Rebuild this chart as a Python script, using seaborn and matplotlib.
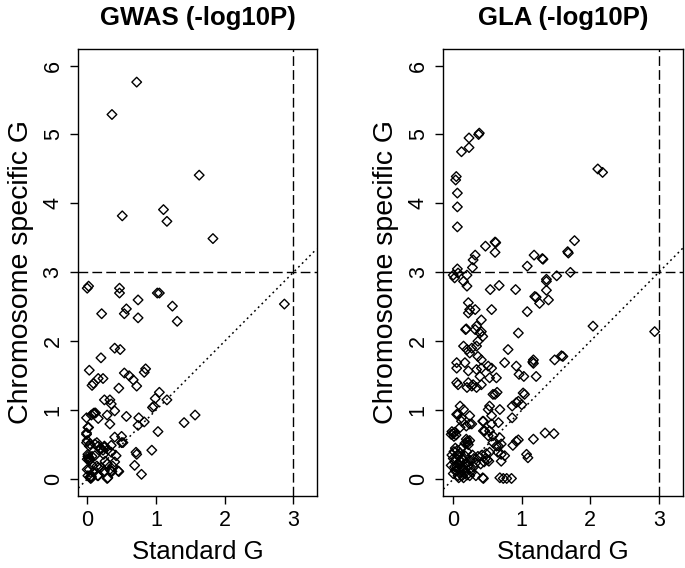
"""
Scatter of chromosome specific G vs standard G for GWAS and GLA (-log10P).
"""
import pandas as pd
import matplotlib.pyplot as plt
import seaborn as sns

# GWAS panel: (standard G, chromosome specific G)
gwas_std = [
    0.72, 0.36, 0.51, 1.11, 1.16, 1.63, 1.83,
    0.00, 0.02, 0.47, 0.47, 1.02, 1.05, 0.74, 1.24, 0.21, 0.57, 0.54, 0.74, 1.31, 2.87,
    0.40, 0.48, 0.20, 0.03, 0.85, 0.83, 0.54, 0.61, 0.67, 0.72, 0.16, 0.23, 0.07, 0.09, 0.46,
    1.05, 0.99, 1.16, 0.95, 0.97, 0.25, 0.33, 0.35,
    0.40, 0.29, 0.12, 0.09, -0.01, 0.16, 0.57, 0.75, 0.74, 0.83, 1.57, 1.41, 1.03,
    0.33, 0.02, -0.01, 0.00, 0.40, 0.50, 0.52, 0.25, 0.35, 0.14, 0.04, 0.23, 0.19, 0.94, 0.72, 0.69, 0.79,
    -0.01, 0.03, 0.11, 0.16, 0.20, 0.25, 0.30, 0.35, 0.42, 0.50, 0.71, 0.40, 0.37, 0.33, 0.25,
    0.20, 0.16, 0.08, 0.03, 0.01, 0.06, 0.16, 0.30, 0.35, 0.45, 0.11, 0.03, 0.00, 0.03, 0.02,
    0.01, 0.04, 0.07, 0.01, 0.24, 0.26, 0.29, 0.36, 0.46, 0.14, 0.05, 0.29, 0.15, 0.24, 0.09,
    0.00, 0.04, 0.06, 0.01, -0.01, 0.10, 0.06,
]
gwas_chr = [
    5.76, 5.29, 3.82, 3.91, 3.74, 4.41, 3.49,
    2.77, 2.80, 2.77, 2.70, 2.70, 2.70, 2.60, 2.51, 2.40, 2.47, 2.40, 2.34, 2.29, 2.54,
    1.90, 1.88, 1.76, 1.58, 1.60, 1.55, 1.54, 1.50, 1.44, 1.35, 1.46, 1.46, 1.36, 1.39, 1.32,
    1.26, 1.17, 1.15, 1.04, 1.06, 1.15, 1.15, 1.09,
    0.99, 0.93, 0.96, 0.95, 0.89, 0.88, 0.91, 0.89, 0.78, 0.83, 0.93, 0.82, 0.69,
    0.80, 0.75, 0.65, 0.56, 0.61, 0.62, 0.53, 0.48, 0.49, 0.53, 0.51, 0.42, 0.43, 0.42, 0.36, 0.20, 0.07,
    0.53, 0.48, 0.51, 0.48, 0.44, 0.46, 0.43, 0.39, 0.34, 0.53, 0.39, 0.25, 0.19, 0.14, 0.12,
    0.17, 0.17, 0.19, 0.14, 0.05, 0.02, 0.05, 0.02, 0.12, 0.12, 0.34, 0.31, 0.29, 0.27, 0.30,
    0.33, 0.28, 0.33, 0.36, 0.36, 0.26, 0.22, 0.11, 0.11, 0.19, 0.01, 0.01, 0.05, 0.10, 0.10,
    0.14, 0.03, 0.04, 0.75, 0.67, 0.96, 0.93,
]

# GLA panel: (standard G, chromosome specific G)
gla_std = [
    0.035, 0.044, 0.06, 0.06, 0.06, 0.12, 0.23, 0.23, 0.37, 0.38, 2.11, 2.18,
    0.47, 0.61, 0.62, 0.61, 0.32, 0.29, 0.28, 0.06, 0.00, 1.08, 1.18, 1.30, 1.31, 1.67, 1.68, 1.77, 1.51, 1.71, 1.36,
    0.02, 0.07, 0.20, 0.15, 0.20, 0.54, 0.67, 0.91, 1.36, 1.36, 1.39, 1.26, 1.21, 1.19, 1.08,
    0.22, 0.24, 0.32, 0.22, 0.56, 0.41, 0.34, 0.41, 0.43, 0.32, 0.18, 0.19, 0.39, 0.36, 0.95, 2.04, 2.94,
    0.15, 0.20, 0.27, 0.34, 0.24, 0.36, 0.41, 0.05, 0.17, 0.05, 0.22, 0.34, 0.41, 0.51, 0.56, 0.39, 0.53, 0.63,
    0.05, 0.07, 0.20, 0.27, 0.29, 0.34, 0.22, 0.41,
    0.75, 0.80, 0.92, 0.96, 1.03, 1.17, 1.21, 1.16, 1.17, 1.48, 1.60, 1.58,
    0.58, 0.61, 0.64, 1.02, 1.04, 1.00, 0.92, 0.86, 0.95, 0.53, 0.51, 0.68, 0.56, 0.86,
    0.10, 0.15, 0.05, 0.24, 0.12, 0.27, 0.10, 0.44, 0.56, 0.66,
    0.44, 0.51, 0.68, 0.58, 0.66, 0.70, 0.87, 0.92, 0.95, 1.17, 1.34, 1.47, 1.07, 1.09,
    0.44, 0.68, 0.73, 0.78, 0.85, 0.24, 0.43, 0.33,
    0.07, 0.12, 0.19, 0.24, 0.43, 0.46, 0.53, 0.58, 0.70, 0.63, 0.65, 0.75, 0.70,
    -0.03, 0.00, 0.02, 0.04, 0.01, -0.02,
    0.17, 0.20, 0.22, 0.24, 0.19, 0.21,
    0.19, 0.25, 0.30, 0.36, 0.42, 0.48, 0.53, 0.45, 0.50, 0.40, 0.47, 0.52,
    0.00, 0.03, 0.05, 0.08, 0.10, 0.12, 0.14, 0.16, 0.18, 0.02, 0.04, 0.06, 0.09, 0.11,
    0.13, 0.07, 0.01, 0.03, 0.06, 0.15, 0.17, 0.20, 0.22, 0.25, 0.27, 0.10, 0.12, 0.08,
    0.15, 0.20, 0.05, 0.02, 0.13, 0.18, 0.00, -0.03, -0.02, 0.30, 0.33, 0.28,
]
gla_chr = [
    4.34, 4.39, 4.15, 3.95, 3.66, 4.75, 4.81, 4.95, 5.00, 5.02, 4.50, 4.45,
    3.38, 3.44, 3.43, 3.29, 3.25, 3.18, 3.07, 3.05, 2.96, 3.09, 3.25, 3.20, 3.19, 3.30, 3.28, 3.46, 2.95, 3.00, 2.90,
    2.92, 2.99, 2.96, 2.87, 2.80, 2.75, 2.81, 2.75, 2.87, 2.74, 2.60, 2.55, 2.64, 2.65, 2.43,
    2.56, 2.46, 2.46, 2.41, 2.46, 2.31, 2.22, 2.14, 2.07, 2.17, 2.17, 2.18, 2.12, 2.00, 2.12, 2.22, 2.14,
    1.93, 1.88, 1.90, 1.93, 1.83, 1.78, 1.73, 1.69, 1.69, 1.61, 1.57, 1.59, 1.61, 1.64, 1.61, 1.49, 1.47, 1.47,
    1.40, 1.37, 1.33, 1.35, 1.37, 1.33, 1.40, 1.37,
    1.69, 1.88, 1.64, 1.52, 1.49, 1.73, 1.49, 1.70, 1.68, 1.73, 1.78, 1.79,
    1.23, 1.23, 1.26, 1.25, 1.23, 1.08, 1.11, 1.06, 1.13, 1.06, 1.01, 1.01, 0.92, 0.89,
    1.06, 1.01, 0.94, 0.92, 0.84, 0.80, 0.75, 0.84, 0.80, 0.82,
    0.70, 0.63, 0.60, 0.53, 0.48, 0.36, 0.49, 0.55, 0.57, 0.58, 0.67, 0.66, 0.36, 0.31,
    0.01, 0.02, 0.01, 0.01, 0.01, 0.05, 0.02, 0.05,
    0.94, 0.89, 0.77, 0.80, 0.84, 0.70, 0.70, 0.63, 0.51, 0.48, 0.39, 0.34, 0.26,
    0.65, 0.66, 0.68, 0.64, 0.62, 0.69,
    0.52, 0.55, 0.50, 0.56, 0.58, 0.53,
    0.24, 0.27, 0.30, 0.33, 0.35, 0.37, 0.39, 0.25, 0.28, 0.22, 0.30, 0.26,
    0.08, 0.12, 0.18, 0.22, 0.26, 0.30, 0.20, 0.14, 0.10, 0.25, 0.30, 0.35, 0.15, 0.10,
    0.05, 0.05, 0.40, 0.45, 0.42, 0.28, 0.34, 0.40, 0.20, 0.15, 0.10, 0.38, 0.45, 0.02,
    0.02, 0.06, 0.12, 0.18, 0.16, 0.22, 0.30, 0.20, 0.35, 0.18, 0.24, 0.35,
]

panels = [
    ("GWAS (-log10P)", gwas_std, gwas_chr, (-0.13, 3.34)),
    ("GLA (-log10P)", gla_std, gla_chr, (-0.145, 3.35)),
]


def draw_panel(ax, title, x, y, xlim):
    df = pd.DataFrame({"Standard G": x, "Chromosome specific G": y})
    sns.scatterplot(
        data=df, x="Standard G", y="Chromosome specific G", ax=ax,
        marker="D", s=24, fc="none", ec="black", linewidth=1.0,
    )
    # reference lines
    ax.axhline(3, color="black", lw=1, ls=(0, (7, 3)))
    ax.axvline(3, color="black", lw=1, ls=(0, (7, 3)))
    ax.axline((0, 0), (1, 1), color="black", lw=1.1, ls=(0, (1.2, 2.2)))

    ax.set_xlim(*xlim)
    ax.set_ylim(-0.24, 6.24)
    ax.set_xticks([0, 1, 2, 3])
    ax.set_yticks([0, 1, 2, 3, 4, 5, 6])
    ax.tick_params(direction="out", length=5.5, width=1, labelsize=15.5, pad=5,
                   colors="black", bottom=True, left=True)
    for lab in ax.get_yticklabels():
        lab.set_rotation(90)
        lab.set_va("center")
    ax.set_xlabel("Standard G", fontsize=18.5, labelpad=6, color="black")
    ax.set_ylabel("Chromosome specific G", fontsize=20.5, labelpad=6, color="black")
    ax.set_title(title, fontsize=18.5, fontweight="bold", pad=17, color="black")
    for sp in ax.spines.values():
        sp.set_visible(True)
        sp.set_linewidth(1)
        sp.set_color("black")


def main():
    sns.set_style("ticks")
    plt.rcParams["font.family"] = ["Liberation Sans", "DejaVu Sans"]
    plt.rcParams["text.color"] = "black"

    fig = plt.figure(figsize=(6.85, 5.68), dpi=100)
    ax1 = fig.add_axes([0.1143, 0.1273, 0.3480, 0.7864])
    ax2 = fig.add_axes([0.6472, 0.1273, 0.3495, 0.7864])

    for ax, (title, x, y, xlim) in zip([ax1, ax2], panels):
        draw_panel(ax, title, x, y, xlim)

    fig.savefig("out.png", dpi=100, facecolor="white")
    plt.close(fig)


if __name__ == "__main__":
    main()
